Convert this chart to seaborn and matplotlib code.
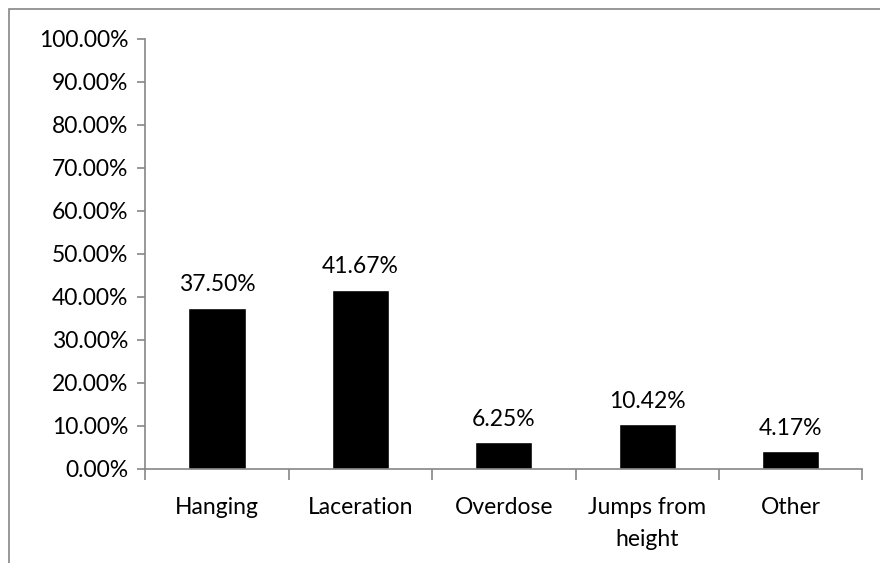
import seaborn as sns
import pandas as pd
import matplotlib.pyplot as plt
from matplotlib.ticker import PercentFormatter, FixedLocator
from matplotlib.patches import Rectangle

methods = ["Hanging", "Laceration", "Overdose", "Jumps from\nheight", "Other"]
shares = [0.3750, 0.4167, 0.0625, 0.1042, 0.0417]

df = pd.DataFrame({"method": methods, "share": shares})

sns.set_theme(style="white")
plt.rcParams['font.family'] = ['Lato', 'DejaVu Sans']
grey = "#868686"
fs = 16.5

fig = plt.figure(figsize=(8.8, 5.63), dpi=100)
ax = fig.add_axes([0.165, 0.167, 0.815, 0.764])

sns.barplot(data=df, x="method", y="share", color="black", width=0.4,
            saturation=1, ax=ax)

ax.set_xlim(-0.5, len(methods) - 0.5)
ax.set_ylim(0, 1)
ax.set_yticks([i / 10 for i in range(11)])
ax.yaxis.set_major_formatter(PercentFormatter(xmax=1, decimals=2))
ax.set_xlabel("")
ax.set_ylabel("")

for i, v in enumerate(shares):
    ax.annotate(f"{v*100:.2f}%", (i, v), xytext=(0, 9), textcoords="offset points",
                ha="center", va="bottom", fontsize=fs, color="black")

for s in ["top", "right"]:
    ax.spines[s].set_visible(False)
for s in ["left", "bottom"]:
    ax.spines[s].set_color(grey)
    ax.spines[s].set_linewidth(1.2)

ax.tick_params(axis="y", which="major", direction="out", length=6, width=1.2,
               color=grey, labelsize=fs, labelcolor="black", pad=6, left=True)
ax.tick_params(axis="x", which="major", length=0, labelsize=fs,
               labelcolor="black", pad=20)
for lab in ax.get_xticklabels():
    lab.set_linespacing(1.65)
ax.xaxis.set_minor_locator(FixedLocator([i - 0.5 for i in range(len(methods) + 1)]))
ax.tick_params(axis="x", which="minor", direction="out", length=8, width=1.2,
               color=grey, bottom=True)

fig.patches.append(Rectangle((9 / 880, -0.1), 1.2, 1 - 9 / 563 + 0.1,
                             transform=fig.transFigure, fill=False,
                             edgecolor=grey, linewidth=1.2))

fig.savefig("out.png", dpi=100)
